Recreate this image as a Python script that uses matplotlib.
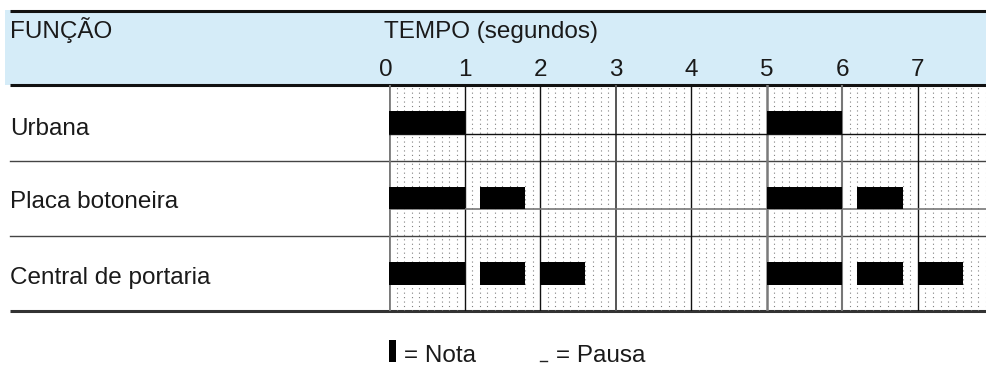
import matplotlib
matplotlib.use("Agg")
import matplotlib.pyplot as plt
from matplotlib.patches import Rectangle

plt.rcParams['font.family'] = ['Liberation Sans', 'DejaVu Sans']

# ---- data ----
functions = ["Urbana", "Placa botoneira", "Central de portaria"]
urbana_starts = [0, 5]
urbana_durations = [1, 1]
placa_starts = [0, 1.2, 5, 6.2]
placa_durations = [1, 0.6, 1, 0.6]
central_starts = [0, 1.2, 2.0, 5, 6.2, 7.0]
central_durations = [1, 0.6, 0.6, 1, 0.6, 0.6]
time_ticks = [0, 1, 2, 3, 4, 5, 6, 7]
header_func = "FUNÇÃO"
header_time = "TEMPO (segundos)"
legend_note = "= Nota"
legend_pause = "= Pausa"

series = [(urbana_starts, urbana_durations),
          (placa_starts, placa_durations),
          (central_starts, central_durations)]

W, H = 987, 383
FS = 17.5
fig = plt.figure(figsize=(W / 100, H / 100), dpi=100)

# background / decoration axes in pixel coordinates
bg = fig.add_axes([0, 0, 1, 1])
bg.set_xlim(0, W)
bg.set_ylim(H, 0)
bg.axis('off')

bg.add_patch(Rectangle((5, 10), W - 5, 75, facecolor='#D5ECF8', edgecolor='none'))
bg.plot([10, W], [10.5, 10.5], color='#111111', lw=2.2, solid_capstyle='butt')
bg.plot([10, W], [85, 85], color='#111111', lw=2.2, solid_capstyle='butt')
bg.plot([10, W], [160.5, 160.5], color='#444444', lw=1.0)
bg.plot([10, W], [236, 236], color='#444444', lw=1.0)
bg.plot([10, W], [311, 311], color='#333333', lw=2.2, solid_capstyle='butt')

txt = dict(fontsize=FS, color='#1a1a1a', va='baseline', ha='left')
bg.text(10, 38, header_func, **txt)
bg.text(384, 38, header_time, **txt)
for lab, base in zip(functions, [135, 208, 284]):
    bg.text(10, base, lab, **txt)

# legend
bg.add_patch(Rectangle((389, 340), 7, 22, facecolor='black', edgecolor='none'))
bg.text(404, 362, legend_note, **txt)
bg.plot([540, 547], [361, 361], color='#222222', lw=1.0)
bg.text(556, 362, legend_pause, **txt)

# grid axes in seconds / rows
x0 = 389
px_per_sec = 75.55
top, bottom = 85, 311
ax = fig.add_axes([x0 / W, (H - bottom) / H, (W - x0) / W, (bottom - top) / H])
ax.set_xlim(0, (W - x0) / px_per_sec)
ax.set_ylim(len(functions), 0)
ax.axis('off')
ax.patch.set_visible(False)

# dotted minor verticals
for k in range(0, 80):
    if k % 10 == 0:
        continue
    ax.axvline(k / 10, color='#808080', lw=0.8, linestyle=(0, (1, 3)), zorder=1)

# major verticals
major_style = {0: ('#7a7a7a', 2.0), 1: ('#111111', 1.0), 2: ('#111111', 1.0),
               3: ('#555555', 1.4), 4: ('#111111', 1.0), 5: ('#7a7a7a', 1.8),
               6: ('#777777', 1.5), 7: ('#111111', 1.0)}
for t in time_ticks:
    c, lw = major_style[t]
    ax.axvline(t, color=c, lw=lw, zorder=2)

bar_h = 0.30
# lines at bar bottoms in first two rows
ax.axhline(0.5 + bar_h / 2, color='#111111', lw=1.0, zorder=2)
ax.axhline(1.5 + bar_h / 2, color='#777777', lw=1.2, zorder=2)

for i, (starts, durs) in enumerate(series):
    ax.broken_barh(list(zip(starts, durs)), (i + 0.5 - bar_h / 2, bar_h),
                   facecolors='black', edgecolor='none', zorder=3)

# time tick labels
for t in time_ticks:
    ax.text(t if t > 0 else -0.04, 1.04, str(t), transform=ax.get_xaxis_transform(),
            ha='center', va='baseline', fontsize=FS, color='#1a1a1a')

fig.savefig("out.png", dpi=100)
